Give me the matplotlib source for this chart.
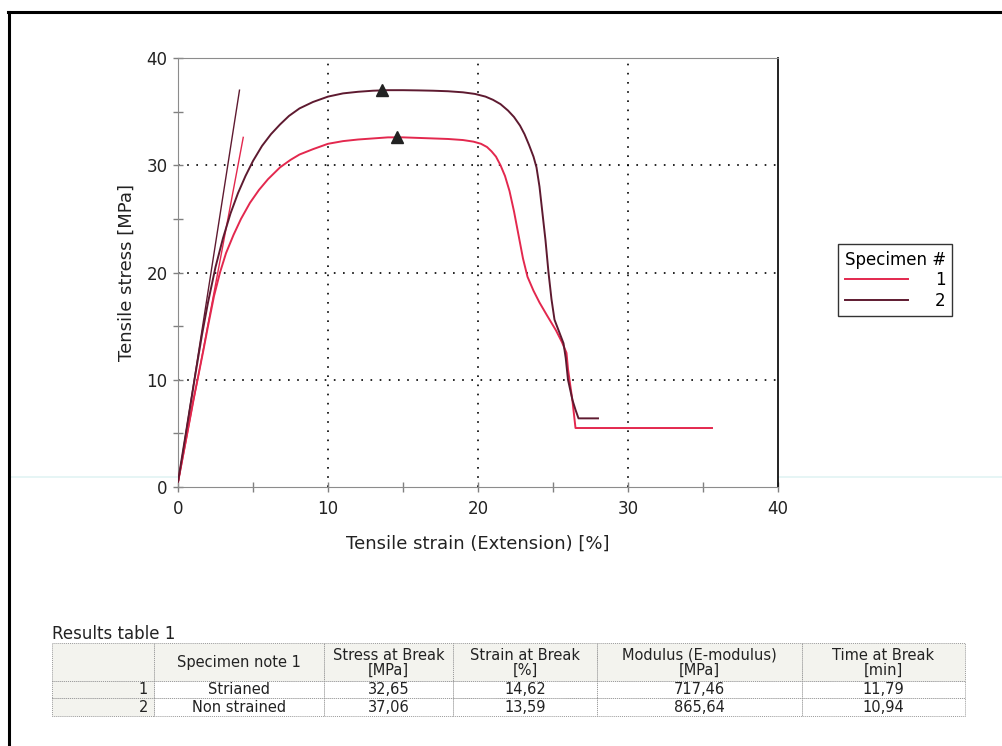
import numpy as np
import matplotlib
matplotlib.use('Agg')
import matplotlib.pyplot as plt
from matplotlib.lines import Line2D
from matplotlib.patches import Rectangle

# specimen 1 (strained) curve
strain_1 = [0, 0.5, 1.0, 1.3, 1.7, 2.0, 2.4, 2.8, 3.2, 3.7, 4.2, 4.8, 5.4, 6.0, 6.8, 7.5,
            8.1, 9.0, 10.0, 11.0, 12.0, 13.0, 14.0, 15.0, 16.0, 17.0, 18.0, 19.0, 19.7,
            20.2, 20.6, 20.9, 21.2, 21.5, 21.8, 22.1, 22.4, 22.7, 23.0, 23.3, 23.7, 24.1,
            24.6, 25.2, 25.6, 25.9, 26.0, 26.1, 26.3, 26.5, 30.0, 35.6]
stress_1 = [0.5, 4.2, 8.0, 10.0, 12.8, 15.0, 17.8, 20.0, 21.8, 23.5, 25.0, 26.5, 27.7,
            28.7, 29.8, 30.5, 31.0, 31.5, 32.0, 32.25, 32.4, 32.5, 32.6, 32.6, 32.55, 32.5,
            32.45, 32.35, 32.2, 32.0, 31.7, 31.3, 30.8, 30.0, 29.0, 27.6, 25.7, 23.5, 21.3,
            19.6, 18.3, 17.2, 16.0, 14.6, 13.5, 12.5, 11.0, 10.0, 8.0, 5.5, 5.5, 5.5]

# specimen 2 (non strained) curve
strain_2 = [0, 0.5, 1.1, 1.6, 2.0, 2.5, 3.0, 3.5, 4.0, 4.5, 5.0, 5.6, 6.2, 6.8, 7.4, 8.1,
            9.0, 10.0, 11.0, 12.0, 13.0, 14.0, 15.0, 16.0, 17.0, 18.0, 19.0, 19.8, 20.5,
            21.0, 21.5, 22.0, 22.4, 22.8, 23.1, 23.4, 23.7, 23.9, 24.1, 24.3, 24.5, 24.7,
            24.9, 25.1, 25.4, 25.7, 25.85, 26.0, 26.3, 26.5, 26.7, 28.0]
stress_2 = [0.5, 4.8, 10.0, 14.2, 17.2, 20.5, 23.2, 25.5, 27.4, 29.0, 30.4, 31.8, 32.9,
            33.8, 34.6, 35.3, 35.9, 36.4, 36.7, 36.85, 36.95, 37.0, 37.0, 36.98, 36.95,
            36.9, 36.8, 36.65, 36.4, 36.1, 35.7, 35.1, 34.5, 33.7, 32.9, 31.9, 30.8, 29.8,
            28.0, 25.5, 23.0, 20.0, 17.5, 15.6, 14.5, 13.4, 12.0, 10.0, 8.1, 7.2, 6.4, 6.4]

# modulus lines
mod_x_1 = [0, 4.35]
mod_y_1 = [0.3, 32.6]
mod_x_2 = [0, 4.1]
mod_y_2 = [0.3, 37.0]

# results table
specimen = ['1', '2']
notes = ['Strianed', 'Non strained']
stress_break = [32.65, 37.06]
strain_break = [14.62, 13.59]
modulus = [717.46, 865.64]
time_break = [11.79, 10.94]
headers = ['', 'Specimen note 1', 'Stress at Break\n[MPa]', 'Strain at Break\n[%]',
           'Modulus (E-modulus)\n[MPa]', 'Time at Break\n[min]']

W, H = 1003, 746
fig = plt.figure(figsize=(W / 100, H / 100), dpi=100)
plt.rcParams['font.family'] = 'DejaVu Sans'

ax = fig.add_axes([178 / W, 1 - 487 / H, 600 / W, 429 / H])
c1 = '#e3284e'
c2 = '#5e1a30'

for v in [10, 20, 30]:
    ax.axvline(v, color='black', ls=(0, (1, 4.5)), lw=1.2, zorder=1)
    ax.axhline(v, color='black', ls=(0, (1, 4.5)), lw=1.2, zorder=1)

ax.plot(mod_x_2, mod_y_2, color=c2, lw=1.0, zorder=2)
ax.plot(mod_x_1, mod_y_1, color=c1, lw=1.0, zorder=2)
l1, = ax.plot(strain_1, stress_1, color=c1, lw=1.4, label='1', zorder=3)
l2, = ax.plot(strain_2, stress_2, color=c2, lw=1.4, label='2', zorder=3)
ax.plot(strain_break, stress_break, ls='none', marker='^', color='#222222', ms=9, zorder=4)

ax.set_xlim(0, 40)
ax.set_ylim(0, 40)
ax.set_xticks([0, 10, 20, 30, 40])
ax.set_yticks([0, 10, 20, 30, 40])
ax.set_xticks([5, 15, 25, 35], minor=True)
ax.set_yticks([5, 15, 25, 35], minor=True)
ax.tick_params(which='both', direction='inout', length=7, color='#808080', width=1,
               labelsize=12, labelcolor='#222222')
ax.tick_params(axis='x', pad=6)
ax.tick_params(axis='y', pad=4)
for s in ['left', 'bottom', 'top']:
    ax.spines[s].set_color('#8c8c8c')
ax.spines['right'].set_color('#111111')
ax.spines['right'].set_linewidth(1.3)

ax.set_xlabel('Tensile strain (Extension) [%]', fontsize=13, color='#222222', labelpad=12)
ax.set_ylabel('Tensile stress [MPa]', fontsize=13, color='#222222', labelpad=8)

leg = ax.legend(handles=[l1, l2], title='Specimen #', loc='upper left',
                bbox_to_anchor=(838 / W, 1 - 244 / H), bbox_transform=fig.transFigure,
                fontsize=12, title_fontsize=12, fancybox=False, framealpha=1,
                edgecolor='#333333', handlelength=3.8, handletextpad=1.6,
                labelspacing=0.15, borderpad=0.4, borderaxespad=0)
leg._legend_box.align = 'left'
leg.get_frame().set_linewidth(1.0)

# page border from the scan
fig.add_artist(Line2D([8 / W, 1], [1 - 12 / H, 1 - 12 / H], color='black', lw=2.2,
                      transform=fig.transFigure))
fig.add_artist(Line2D([9 / W, 9 / W], [0, 1 - 12 / H], color='black', lw=2.2,
                      transform=fig.transFigure))
fig.add_artist(Line2D([10 / W, 1], [1 - 477 / H, 1 - 477 / H], color='#e2f4f4', lw=1.2,
                      transform=fig.transFigure, zorder=0))

# results table
fig.text(52 / W, 1 - 643 / H, 'Results table 1', fontsize=12, color='#222222',
         ha='left', va='bottom')
col_edges = [52, 154, 324, 453, 597, 802, 965]
row_edges = [643, 681, 698, 716]
tax = fig.add_axes([0, 0, 1, 1], facecolor='none')
tax.set_xlim(0, W)
tax.set_ylim(H, 0)
tax.axis('off')

rows = []
for i in range(len(specimen)):
    rows.append([specimen[i], notes[i]] +
                [f'{v:.2f}'.replace('.', ',') for v in
                 (stress_break[i], strain_break[i], modulus[i], time_break[i])])
cells = [headers] + rows

for r in range(len(cells)):
    for c in range(len(headers)):
        x0, x1 = col_edges[c], col_edges[c + 1]
        y0, y1 = row_edges[r], row_edges[r + 1]
        fc = '#f3f3ee' if (r == 0 or c == 0) else 'white'
        tax.add_patch(Rectangle((x0, y0), x1 - x0, y1 - y0, facecolor=fc,
                                edgecolor='#9a9a9a', lw=0.7, ls=(0, (1, 1))))
        txt = cells[r][c]
        if c == 0:
            tax.text(x1 - 6, (y0 + y1) / 2 + 0.5, txt, fontsize=10.5, color='#222222',
                     ha='right', va='center')
        elif r == 0:
            tax.text((x0 + x1) / 2, (y0 + y1) / 2 + 0.5, txt, fontsize=10.5, color='#222222',
                     ha='center', va='center', linespacing=1.0)
        else:
            tax.text((x0 + x1) / 2, (y0 + y1) / 2 + 0.5, txt, fontsize=10.5, color='#222222',
                     ha='center', va='center')

fig.savefig('out.png', dpi=100)
